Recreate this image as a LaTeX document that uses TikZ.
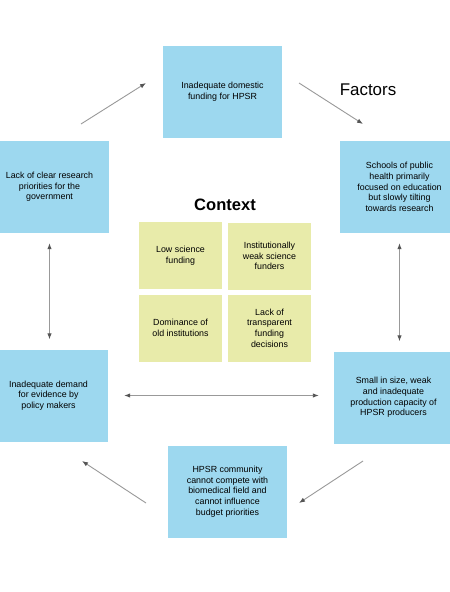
\documentclass[tikz,border=0pt]{standalone}
\usepackage{fontspec}
\setmainfont{Liberation Sans}
\usetikzlibrary{arrows.meta}
\definecolor{factorblue}{HTML}{9DD8EF}
\definecolor{contextyellow}{HTML}{E8EBAA}
\definecolor{linkgray}{HTML}{999999}
\definecolor{tipgray}{HTML}{555555}
\tikzset{
  factor/.style={fill=factorblue, minimum width=119bp, minimum height=92bp, inner sep=0pt,
    align=center, font=\fontsize{8.9}{10.7}\selectfont},
  context/.style={fill=contextyellow, minimum width=83bp, minimum height=67bp, inner sep=0pt,
    align=center, font=\fontsize{8.9}{10.7}\selectfont},
  linktip/.tip={Latex[length=6bp,width=4.5bp,color=tipgray]},
  link/.style={linkgray, line width=0.9pt, -linktip},
  twoway/.style={link, linktip-linktip}
}
\begin{document}
\begin{tikzpicture}[x=1bp, y=-1bp]
\clip (0,0) rectangle (450,592);
\fill[white] (0,0) rectangle (450,592);

% Factors
\node[factor] (funding) at (222.5,92) {Inadequate domestic\\funding for HPSR};
\node[factor] (schools) at (399.5,187) {Schools of public\\health primarily\\focused on education\\but slowly tilting\\towards research};
\node[factor] (capacity) at (393.5,397.5) {Small in size, weak\\and inadequate\\production capacity of\\HPSR producers};
\node[factor] (community) at (227.5,491.5) {HPSR community\\cannot compete with\\biomedical field and\\cannot influence\\budget priorities};
\node[factor] (demand) at (48.5,395.5) {Inadequate demand\\for evidence by\\policy makers};
\node[factor] (priorities) at (49.5,187) {Lack of clear research\\priorities for the\\government};
\node[font=\fontsize{17}{20}\selectfont] (factors) at (368,90) {Factors};

% Context
\node[font=\fontsize{16.6}{20}\selectfont\bfseries] (contexttitle) at (225,205) {Context};
\node[context] (science) at (180.5,255.5) {Low science\\funding};
\node[context] (funders) at (269.5,256) {Institutionally\\weak science\\funders};
\node[context] (dominance) at (180.5,328) {Dominance of\\old institutions};
\node[context] (transparent) at (269.5,328) {Lack of\\transparent\\funding\\decisions};

% Arrows
\coordinate (a1) at (81,124);   \coordinate (b1) at (146,83);
\coordinate (a2) at (299,83);   \coordinate (b2) at (363,124);
\coordinate (a3) at (363,461);  \coordinate (b3) at (299,503);
\coordinate (a4) at (146,503);  \coordinate (b4) at (82,461);
\draw[link] (a1) -- (b1);
\draw[link] (a2) -- (b2);
\draw[link] (a3) -- (b3);
\draw[link] (a4) -- (b4);
\draw[twoway, shorten <=10bp, shorten >=10bp] (priorities.south) -- (priorities.south |- demand.north);
\draw[twoway, shorten <=10bp, shorten >=10bp] (schools.south) -- (schools.south |- capacity.north);
\draw[twoway, shorten <=16bp, shorten >=15bp] (demand.east) -- (demand.east -| capacity.west);
\end{tikzpicture}
\end{document}
